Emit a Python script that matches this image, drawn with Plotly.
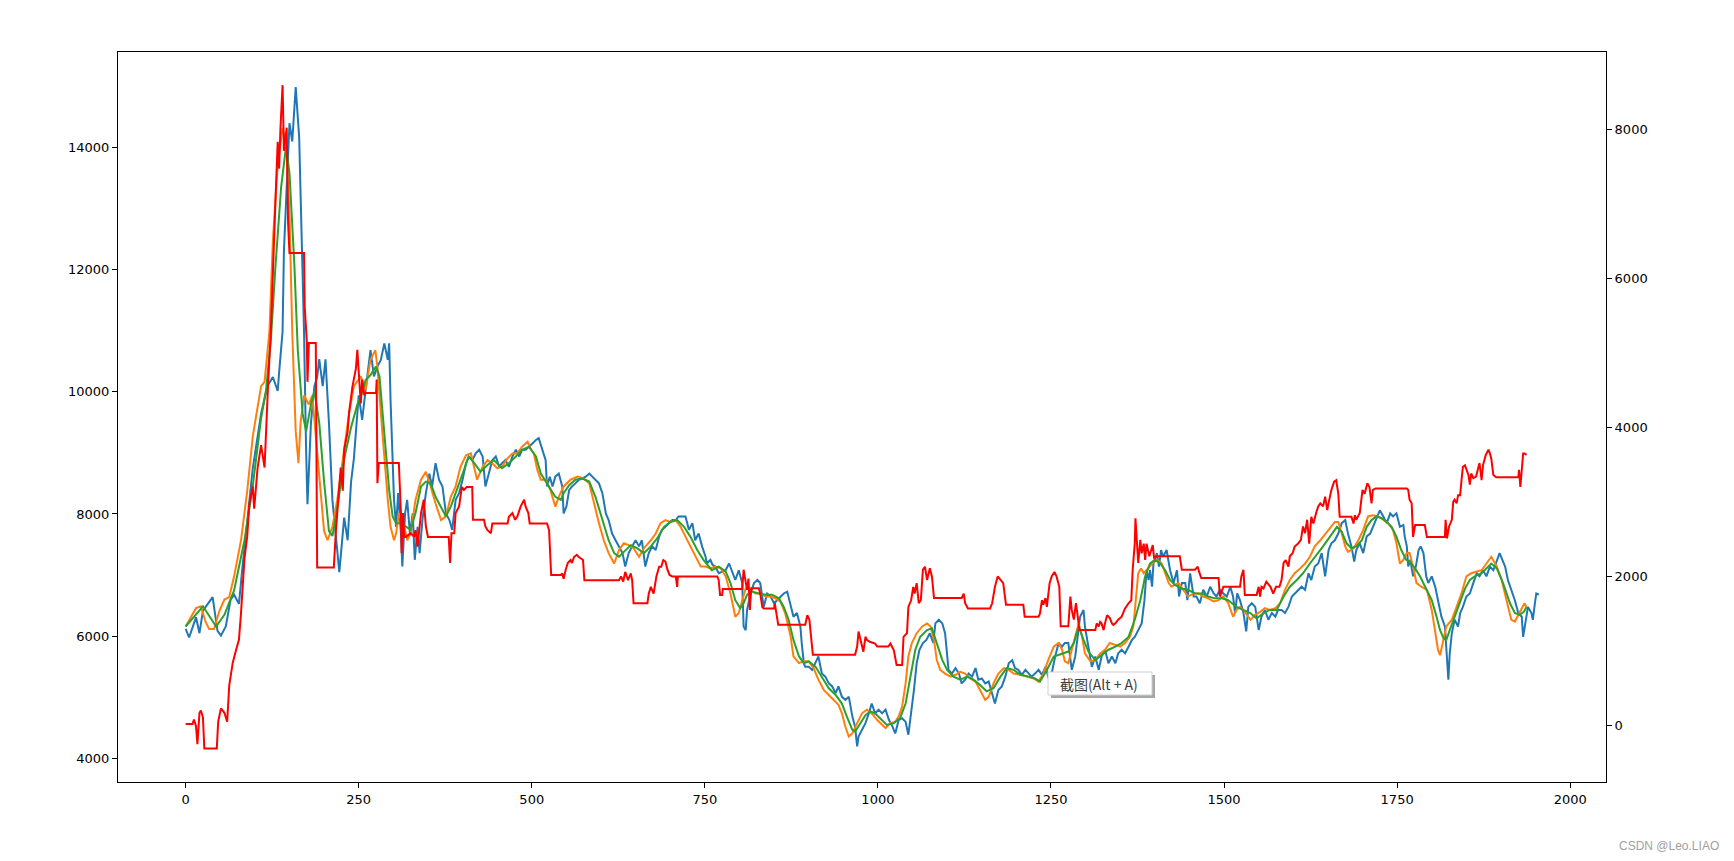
import plotly.graph_objects as go

# ---------------- data ----------------
blue_x = [0, 5, 15, 20, 25, 34, 39, 46, 51, 58, 65, 70, 77, 82, 89, 97, 109, 118, 126, 133, 135, 140, 142, 147, 150, 154, 159, 164, 166, 169, 171, 174, 176, 181, 186, 190, 193, 198, 202, 207, 212, 217, 222, 229, 234, 239, 243, 250,
          255, 260, 267, 272, 277, 282, 287, 292, 294, 296, 299, 301, 304, 307, 311, 313, 317, 320, 324, 328, 331, 335, 338, 342, 347, 352, 356, 361, 366, 371, 376, 381, 385, 390, 395, 400, 405, 409, 414, 419, 424, 429, 433, 438, 443, 448, 453, 457, 462, 467, 472, 477, 482, 486, 491, 496,
          501, 506, 510, 515, 520, 522, 526, 530, 534, 539, 544, 546, 550, 554, 558, 563, 568, 573, 578, 583, 587, 592, 597, 602, 607, 611, 616, 621, 626, 631, 635, 640, 645, 650, 655, 659, 664, 669, 674, 679, 684, 688, 693, 698, 703, 708, 712, 717, 722, 727, 732, 736, 741, 746, 751,
          753, 758, 761, 765, 770, 775, 780, 785, 789, 794, 799, 804, 806, 809, 811, 816, 821, 826, 830, 835, 840, 845, 850, 854, 859, 864, 869, 874, 878, 883, 888, 890, 893, 895, 900, 905, 910, 914, 919, 924, 929, 934, 939, 943, 948, 953, 958, 963, 967, 970, 972, 977, 982, 987, 991, 996, 1001,
          1006, 1011, 1016, 1020, 1025, 1030, 1035, 1040, 1044, 1048, 1052, 1056, 1060, 1065, 1070, 1075, 1080, 1083, 1088, 1093, 1097, 1102, 1107, 1112, 1117, 1121, 1126, 1131, 1136, 1141, 1145, 1150, 1155, 1160, 1165, 1169, 1174, 1179, 1184, 1189, 1194, 1198, 1203, 1208, 1213, 1218, 1222, 1227, 1232, 1237, 1242, 1246, 1251,
          1256, 1261, 1266, 1270, 1275, 1280, 1285, 1290, 1292, 1297, 1299, 1304, 1309, 1314, 1319, 1323, 1328, 1333, 1338, 1343, 1347, 1352, 1357, 1362, 1367, 1371, 1376, 1381, 1385, 1388, 1391, 1393, 1396, 1398, 1403, 1406, 1409, 1412, 1417, 1422, 1427, 1432, 1435, 1439, 1444, 1447, 1451, 1456, 1460, 1465, 1470, 1475, 1480, 1485, 1489, 1494, 1499, 1504,
          1509, 1513, 1516, 1519, 1523, 1528, 1532, 1535, 1540, 1545, 1550, 1554, 1559, 1564, 1569, 1574, 1578, 1583, 1588, 1593, 1598, 1602, 1607, 1612, 1617, 1622, 1626, 1631, 1636, 1641, 1646, 1651, 1655, 1660, 1665, 1670, 1675, 1679, 1684, 1688, 1691, 1696, 1701, 1706, 1711, 1715, 1720, 1725, 1730, 1735, 1740, 1744, 1749, 1754,
          1759, 1761, 1764, 1766, 1769, 1773, 1777, 1781, 1784, 1788, 1792, 1795, 1800, 1805, 1809, 1814, 1819, 1821, 1824, 1826, 1829, 1833, 1838, 1841, 1845, 1850, 1855, 1860, 1865, 1869, 1874, 1879, 1884, 1889, 1894, 1898, 1902, 1906, 1910, 1915, 1920, 1925, 1930, 1932, 1936, 1939, 1944, 1946, 1949, 1951, 1955]
blue_y = [6120, 5980, 6310, 6050, 6420, 6570, 6640, 6090, 6010, 6160, 6600, 6680, 6530, 7120, 7940, 8750, 9640, 10090, 10240, 10010, 10310, 10980, 12310, 13790, 14390, 14090, 14980, 14160, 13200, 12240, 10980, 9050, 8160, 9490, 10090, 10240, 10530, 10090, 10530, 9490, 8230, 7640, 7050, 7940, 7570, 8530, 8900, 9940,
          9540, 10030, 10680, 10250, 10410, 10520, 10790, 10520, 10790, 9860, 9050, 8230, 7790, 8340, 7680, 7140, 8010, 8230, 7680, 8010, 7250, 7790, 7360, 7900, 8340, 8660, 8450, 8830, 8560, 8450, 8010, 7900, 7740, 8230, 8340, 8560, 8830, 8940, 8880, 8990, 9050, 8940, 8450, 8660, 8880, 8940, 8770, 8830, 8880, 8770, 8940, 9050, 8940, 9050, 9050, 9100,
          9160, 9210, 9240, 9050, 8880, 8450, 8610, 8450, 8610, 8660, 8450, 8010, 8120, 8390, 8450, 8500, 8560, 8580, 8610, 8660, 8610, 8560, 8500, 8340, 8010, 7900, 7680, 7570, 7470, 7360, 7140, 7360, 7470, 7570, 7470, 7570, 7140, 7360, 7470, 7410, 7630, 7740, 7790, 7850, 7900, 7900, 7960, 7960, 7960, 7740, 7850, 7570, 7680, 7470, 7300,
          7190, 7250, 7170, 7140, 7030, 7060, 7080, 7190, 7060, 6920, 7080, 6870, 6160, 6100, 6430, 6700, 6870, 6920, 6870, 6480, 6700, 6650, 6540, 6590, 6650, 6700, 6730, 6480, 6320, 6380, 6160, 5880, 5560, 5500, 5500, 5450, 5560, 5670, 5390, 5340, 5230, 5180, 5070, 5180, 5010, 4960, 5010, 4690, 4520, 4200, 4360, 4470, 4580, 4740, 4900, 4740, 4800,
          4740, 4800, 4630, 4550, 4410, 4630, 4660, 4600, 4390, 4740, 5120, 5560, 5780, 5890, 5940, 6050, 5890, 6210, 6270, 6210, 6050, 5450, 5390, 5480, 5390, 5230, 5290, 5390, 5340, 5480, 5290, 5310, 5230, 5260, 5070, 4900, 5120, 5180, 5340, 5560, 5610, 5480, 5450, 5370, 5450, 5390, 5340, 5390, 5450, 5370, 5500, 5340, 5390,
          5670, 5890, 5830, 5890, 5890, 5450, 5670, 6100, 6320, 6430, 6160, 5830, 5500, 5670, 5450, 5670, 5780, 5560, 5670, 5560, 5720, 5780, 5720, 5830, 5940, 5990, 6100, 6210, 6590, 7080, 6920, 7080, 6810, 7190, 7360, 7140, 7410, 7300, 7410, 7080, 6870, 7080, 6650, 6870, 6870, 6590, 7030, 6650, 6650, 6540, 6760, 6650, 6810, 6700, 6650, 6760, 6700, 6650,
          6810, 6650, 6380, 6700, 6590, 6380, 6080, 6480, 6540, 6480, 6100, 6320, 6430, 6270, 6380, 6320, 6430, 6430, 6380, 6480, 6650, 6700, 6760, 6810, 6760, 7030, 6920, 7140, 7190, 7360, 6980, 7410, 7520, 7570, 7680, 7850, 7900, 7680, 7470, 7220, 7410, 7520, 7360, 7630, 7680, 7790, 7900, 8060, 7960, 7850, 8010, 7960, 8010, 7790,
          7820, 7630, 7470, 7140, 7250, 6980, 7140, 7410, 7470, 7360, 6980, 6870, 6980, 6810, 6590, 6320, 6160, 5720, 5290, 5720, 6050, 6270, 6160, 6380, 6480, 6650, 6700, 6870, 7030, 6980, 7080, 6980, 7140, 7080, 7250, 7360, 7250, 7140, 6920, 6760, 6590, 6380, 6320, 5990, 6320, 6480, 6380, 6270, 6540, 6700, 6680]

orange_x = [0, 15, 22, 29, 34, 41, 49, 56, 63, 70, 80, 89, 97, 101, 109, 114, 121, 126, 133, 140, 145, 150, 154, 159, 163, 166, 171, 178, 183, 188, 195, 200, 205, 212, 219, 229, 236, 243,
            253, 260, 267, 274, 277, 282, 287, 292, 296, 301, 304, 308, 316, 320, 325, 332, 340, 347, 354, 361, 369, 376, 383, 390, 397, 405, 412, 417, 421, 429, 436, 443, 450, 457, 465, 472, 479, 486, 494,
            498, 503, 508, 513, 520, 527, 534, 539, 546, 556, 566, 575, 583, 590, 597, 604, 611, 619, 626, 633, 640, 647, 655, 662, 672, 679, 686, 693, 700, 708, 715, 722, 729, 736, 744,
            751, 758, 765, 773, 780, 787, 794, 799, 804, 809, 816, 823, 830, 838, 845, 852, 859, 866, 874, 878, 886, 893, 900, 907, 914, 922, 929, 936, 943, 948, 953, 958, 963, 970, 977, 984, 991, 999,
            1004, 1011, 1018, 1025, 1030, 1035, 1040, 1044, 1049, 1056, 1064, 1071, 1076, 1081, 1085, 1090, 1097, 1105, 1112, 1119, 1126, 1133, 1141, 1148, 1155, 1160, 1167, 1174, 1182, 1189, 1196, 1206, 1215, 1225, 1232, 1239, 1246, 1254,
            1261, 1266, 1270, 1275, 1280, 1285, 1290, 1295, 1299, 1307, 1314, 1321, 1328, 1335, 1343, 1350, 1357, 1364, 1369, 1372, 1376, 1380, 1384, 1388, 1396, 1403, 1410, 1415, 1420, 1424, 1429, 1434, 1441, 1448, 1456, 1463, 1470, 1477, 1485, 1492, 1499, 1506,
            1513, 1518, 1523, 1530, 1538, 1545, 1552, 1559, 1566, 1574, 1581, 1588, 1595, 1602, 1610, 1617, 1624, 1631, 1639, 1646, 1653, 1660, 1665, 1670, 1675, 1679, 1687, 1694, 1701, 1708, 1715, 1723, 1730, 1737, 1744, 1749,
            1754, 1759, 1764, 1768, 1773, 1778, 1785, 1793, 1800, 1805, 1809, 1812, 1817, 1821, 1829, 1836, 1843, 1850, 1857, 1865, 1872, 1879, 1886, 1894, 1901, 1908, 1915, 1920, 1925, 1930, 1934, 1937]
orange_y = [6160, 6460, 6490, 6230, 6120, 6120, 6420, 6600, 6640, 6980, 7570, 8380, 9270, 9570, 10090, 10160, 10980, 12460, 13720, 14310, 14090, 12900, 10980, 9350, 8830, 9490, 9940, 9790, 9940, 9270, 8380, 7720, 7570, 7790, 8230, 9050, 9640, 10090,
            10250, 10030, 10520, 10680, 10410, 9650, 8880, 8230, 7790, 7570, 7680, 8010, 7790, 7570, 7680, 8230, 8560, 8690, 8450, 8170, 7900, 7960, 8280, 8450, 8770, 8960, 8990, 8720, 8560, 8770, 8880, 8830, 8750, 8770, 8910, 8990, 8990, 9100, 9180,
            9070, 8990, 8720, 8560, 8560, 8390, 8120, 8280, 8450, 8560, 8610, 8580, 8500, 8170, 7850, 7570, 7360, 7190, 7410, 7520, 7490, 7440, 7300, 7440, 7570, 7680, 7850, 7900, 7870, 7900, 7790, 7630, 7470, 7300, 7140,
            7140, 7110, 7140, 7110, 6980, 6700, 6320, 6380, 6590, 6780, 6760, 6700, 6700, 6650, 6650, 6620, 6570, 6380, 5990, 5670, 5560, 5590, 5590, 5480, 5290, 5120, 5040, 4960, 4880, 4740, 4520, 4360, 4410, 4580, 4740, 4800, 4740, 4630,
            4580, 4500, 4580, 4600, 4690, 4850, 5230, 5670, 5890, 6050, 6160, 6210, 6160, 5940, 5610, 5450, 5390, 5340, 5370, 5420, 5390, 5310, 5260, 5120, 4960, 5010, 5230, 5390, 5480, 5450, 5390, 5370, 5340, 5310, 5260, 5390, 5610, 5830,
            5890, 5780, 5590, 5560, 5780, 5990, 6210, 5990, 5720, 5590, 5610, 5720, 5780, 5890, 5860, 5830, 5890, 5990, 6160, 6540, 7030, 7110, 7030, 7080, 7190, 7250, 7190, 7030, 6870, 6810, 6840, 6870, 6760, 6650, 6700, 6700, 6650, 6620, 6570, 6590, 6650, 6540,
            6320, 6430, 6480, 6400, 6270, 6350, 6400, 6460, 6430, 6460, 6540, 6760, 6920, 7030, 7110, 7190, 7300, 7470, 7570, 7680, 7770, 7870, 7870, 7680, 7470, 7380, 7440, 7570, 7740, 7960, 7980, 7960, 7900, 7850, 7740, 7520,
            7190, 7250, 7360, 7360, 7140, 6870, 6810, 6760, 6430, 6050, 5780, 5690, 5940, 6160, 6270, 6480, 6700, 6980, 7030, 7060, 7080, 7190, 7300, 7140, 6920, 6590, 6270, 6240, 6350, 6460, 6540, 6480]

green_x = [0, 25, 44, 56, 70, 85, 97, 109, 116, 123, 130, 138, 145, 150, 157, 162, 169, 174, 181, 186, 193, 200, 207, 212, 219, 229, 239, 248,
           253, 260, 267, 275, 280, 284, 289, 294, 299, 304, 311, 318, 325, 332, 340, 347, 354, 361, 371, 376, 383, 390, 400, 409, 417, 426, 436, 445, 457, 467, 477, 486, 496,
           506, 513, 520, 527, 534, 542, 546, 554, 563, 573, 583, 592, 602, 611, 619, 626, 633, 643, 652, 662, 672, 681, 691, 700, 710, 720, 729, 739, 748,
           760, 770, 780, 787, 794, 801, 806, 811, 818, 828, 838, 847, 857, 864, 871, 878, 886, 893, 900, 910, 919, 929, 939, 948, 955, 963, 967, 975, 982, 989, 996, 1003,
           1013, 1023, 1032, 1040, 1047, 1054, 1061, 1071, 1078, 1085, 1093, 1100, 1109, 1119, 1129, 1138, 1148, 1157, 1167, 1177, 1186, 1196, 1206, 1218, 1227, 1234, 1244, 1254,
           1266, 1275, 1283, 1290, 1297, 1304, 1314, 1323, 1333, 1343, 1352, 1362, 1371, 1379, 1386, 1393, 1400, 1408, 1415, 1422, 1429, 1439, 1448, 1458, 1468, 1477, 1487, 1497, 1506,
           1518, 1528, 1538, 1547, 1557, 1566, 1576, 1586, 1595, 1605, 1614, 1624, 1634, 1643, 1653, 1663, 1670, 1677, 1684, 1691, 1699, 1706, 1713, 1720, 1728, 1735, 1742, 1749,
           1756, 1763, 1768, 1776, 1783, 1793, 1800, 1807, 1812, 1817, 1821, 1826, 1833, 1841, 1848, 1855, 1862, 1872, 1879, 1886, 1894, 1903, 1913, 1920, 1927, 1933, 1937]
green_y = [6160, 6490, 6160, 6350, 6750, 7570, 8460, 9570, 10010, 10830, 12090, 13350, 14010, 13570, 12090, 10680, 9640, 9350, 9790, 10010, 9490, 8530, 7720, 7640, 8090, 8900, 9420, 9790,
           9920, 10190, 10270, 10410, 10250, 9700, 9050, 8390, 7960, 7850, 7850, 7790, 7740, 8010, 8450, 8530, 8500, 8280, 8070, 7960, 8120, 8340, 8660, 8940, 8830, 8690, 8800, 8880, 8750, 8830, 8940, 9050, 9100,
           8940, 8660, 8530, 8390, 8280, 8230, 8340, 8470, 8560, 8580, 8530, 8280, 7900, 7570, 7360, 7300, 7380, 7490, 7440, 7360, 7470, 7600, 7790, 7870, 7900, 7790, 7630, 7410, 7250,
           7080, 7140, 7060, 6870, 6590, 6460, 6540, 6680, 6730, 6700, 6680, 6680, 6620, 6480, 6270, 5940, 5670, 5560, 5590, 5500, 5340, 5150, 5040, 4900, 4690, 4470, 4440, 4580, 4710, 4770, 4740, 4660,
           4550, 4580, 4660, 4900, 5340, 5780, 5990, 6100, 6130, 5890, 5610, 5450, 5340, 5290, 5340, 5290, 5200, 5100, 5150, 5340, 5480, 5450, 5370, 5340, 5310, 5260, 5450, 5670,
           5720, 5750, 5890, 6160, 5940, 5750, 5610, 5690, 5780, 5830, 5890, 5990, 6270, 6590, 6980, 7190, 7250, 7190, 7080, 6920, 6840, 6780, 6760, 6700, 6700, 6650, 6620, 6620, 6590,
           6480, 6430, 6380, 6290, 6380, 6430, 6430, 6650, 6810, 6920, 7030, 7190, 7330, 7470, 7630, 7790, 7710, 7520, 7440, 7470, 7570, 7790, 7900, 7960, 7930, 7870, 7790, 7630,
           7410, 7250, 7220, 7110, 6980, 6760, 6590, 6320, 6100, 5970, 5940, 6100, 6320, 6570, 6780, 6920, 6980, 7030, 7110, 7190, 7110, 6870, 6540, 6380, 6350, 6400, 6480]

red_x = [0, 10, 12, 15, 17, 20, 22, 25, 27, 45, 47, 51, 56, 60, 63, 68, 73, 77, 80, 85, 89, 92, 97, 99, 104, 109, 114, 116, 119, 123, 127, 130, 133, 135, 137, 140, 142, 146, 148, 150, 171, 172, 175, 176, 178, 188, 190, 214, 217, 220, 224, 227, 229, 234, 236, 241, 246, 248, 251,
         253, 255, 258, 260, 275, 276, 277, 279, 308, 311, 312, 314, 316, 318, 325, 330, 332, 335, 340, 344, 347, 349, 350, 380, 382, 384, 388, 390, 395, 399, 402, 406, 414, 415, 431, 433, 436, 441, 443, 465, 467, 472, 476, 479, 484, 489, 491, 495, 497, 522,
         525, 528, 542, 544, 546, 549, 552, 556, 558, 561, 565, 568, 571, 574, 576, 626, 629, 632, 635, 639, 643, 645, 647, 667, 669, 672, 676, 680, 684, 687, 690, 693, 696, 699, 703, 708, 710, 711, 768,
         770, 772, 775, 776, 804, 806, 809, 811, 813, 815, 817, 828, 830, 833, 835, 850, 851, 853, 856, 895, 898, 901, 906, 967, 970, 972, 975, 977, 979, 982, 984, 989, 996, 999, 1015,
         1018, 1020, 1023, 1027, 1035, 1037, 1042, 1044, 1048, 1051, 1053, 1056, 1059, 1062, 1065, 1068, 1071, 1075, 1078, 1081, 1121, 1124, 1126, 1130, 1162, 1165, 1169, 1173, 1177, 1181, 1185, 1210, 1212, 1232, 1234, 1237, 1239, 1242, 1244, 1248, 1251, 1255, 1258, 1262, 1264,
         1275, 1278, 1280, 1283, 1286, 1288, 1291, 1314, 1316, 1319, 1321, 1323, 1326, 1328, 1331, 1333, 1335, 1338, 1340, 1343, 1347, 1352, 1357, 1362, 1366, 1368, 1371, 1372, 1374, 1376, 1379, 1381, 1384, 1386, 1388, 1392, 1395, 1397, 1399, 1403, 1436, 1439, 1458, 1462, 1464, 1467, 1492, 1494, 1499, 1523,
         1525, 1528, 1530, 1547, 1550, 1552, 1554, 1557, 1561, 1564, 1567, 1571, 1575, 1580, 1583, 1586, 1589, 1593, 1595, 1599, 1602, 1607, 1611, 1614, 1617, 1620, 1623, 1626, 1629, 1633, 1636, 1639, 1643, 1646, 1649, 1652, 1655, 1659, 1662, 1665, 1667, 1684, 1687, 1689, 1691, 1696, 1700, 1703, 1707, 1710, 1713, 1715, 1719, 1764, 1766, 1768, 1771, 1773, 1776, 1790, 1793, 1819,
         1820, 1822, 1825, 1829, 1831, 1833, 1836, 1838, 1841, 1843, 1845, 1848, 1850, 1853, 1855, 1857, 1860, 1864, 1867, 1869, 1872, 1874, 1878, 1882, 1884, 1886, 1889, 1893, 1925, 1926, 1928, 1930, 1932, 1934, 1937]
red_y = [20, 20, 80, -10, -250, 170, 200, 110, -310, -310, 50, 230, 170, 50, 540, 840, 1020, 1150, 1510, 2240, 2540, 2970, 3210, 2910, 3460, 3760, 3460, 4000, 4550, 5280, 6190, 7100, 7830, 7470, 8020, 8590, 7710, 8020, 6740, 6340, 6340, 5610, 5160, 4610, 5130, 5130, 2120, 2120, 2600, 2970, 3460, 3150, 3700, 3940, 4190, 4550, 4790, 5040, 4670,
         4320, 4640, 4430, 4460, 4460, 4640, 3250, 3520, 3520, 2850, 2310, 2850, 2530, 2530, 2580, 2530, 2620, 2400, 2850, 3030, 2670, 2580, 2530, 2530, 2180, 2580, 2580, 2850, 2940, 3200, 3160, 3200, 3200, 2760, 2760, 2670, 2620, 2580, 2710, 2710, 2800, 2850, 2760, 2800, 2940, 3030, 2940, 2850, 2710, 2710,
         2620, 2020, 2020, 2040, 1970, 2090, 2180, 2220, 2180, 2260, 2290, 2260, 2240, 2220, 1950, 1950, 2000, 1930, 2060, 1950, 2040, 1950, 1640, 1640, 1770, 1860, 1770, 2000, 2130, 2130, 2220, 2200, 2090, 2020, 2000, 2000, 1860, 2000, 2000,
         1950, 1750, 1750, 1830, 1830, 2090, 1950, 1820, 1970, 1550, 1840, 1840, 1770, 1590, 1570, 1570, 1640, 1510, 1350, 1350, 1480, 1420, 950, 950, 1060, 1260, 1150, 1040, 990, 1190, 1150, 1120, 1100, 1060, 1060,
         1100, 1060, 1010, 810, 810, 1190, 1240, 1590, 1680, 1860, 1770, 1910, 1640, 1680, 2090, 2130, 1950, 2110, 2000, 1710, 1710, 1770, 1640, 1570, 1570, 1640, 1860, 2000, 1950, 1910, 1620, 1620, 1460, 1460, 1500, 1680, 1620, 1710, 1590, 1910, 2000, 2060, 2000, 1860, 1330,
         1330, 1730, 1550, 1420, 1640, 1510, 1280, 1280, 1370, 1330, 1390, 1370, 1280, 1370, 1480, 1460, 1440, 1370, 1350, 1370, 1420, 1460, 1570, 1640, 1680, 2090, 2440, 2780, 2530, 2180, 2490, 2310, 2440, 2220, 2440, 2270, 2360, 2420, 2240, 2270, 2270, 2090, 2090, 2130, 2060, 1980, 1980, 1730, 1860, 1860,
         2000, 2090, 1750, 1750, 1860, 1730, 1860, 1840, 1930, 1890, 1860, 1770, 1860, 1860, 1950, 2180, 2220, 2130, 2270, 2310, 2400, 2440, 2490, 2670, 2580, 2760, 2440, 2800, 2710, 2850, 2940, 2980, 2940, 3070, 2890, 3030, 3160, 3270, 3290, 3110, 2800, 2800, 2710, 2820, 2760, 2850, 3160, 3110, 3250, 3200, 2980, 3160, 3180, 3180, 3160, 3030, 2980, 2530, 2690, 2690, 2530, 2530,
         2760, 2510, 2670, 2760, 3000, 3030, 2980, 3090, 3090, 3290, 3470, 3490, 3430, 3360, 3230, 3380, 3320, 3340, 3450, 3520, 3290, 3490, 3630, 3700, 3650, 3580, 3360, 3330, 3330, 3430, 3200, 3430, 3650, 3650, 3630]

x_ticks = [0, 250, 500, 750, 1000, 1250, 1500, 1750, 2000]
left_ticks = [4000, 6000, 8000, 10000, 12000, 14000]
right_ticks = [0, 2000, 4000, 6000, 8000]

# ---------------- figure ----------------
W, H = 1734, 861
ML, MR, MT, MB = 118, 128, 52, 79
PW, PH = W - ML - MR, H - MT - MB

fig = go.Figure()
lw = 2
fig.add_trace(go.Scatter(x=blue_x, y=blue_y, mode="lines", line=dict(color="#1f77b4", width=lw), yaxis="y"))
fig.add_trace(go.Scatter(x=orange_x, y=orange_y, mode="lines", line=dict(color="#ff7f0e", width=lw), yaxis="y"))
fig.add_trace(go.Scatter(x=green_x, y=green_y, mode="lines", line=dict(color="#2ca02c", width=lw), yaxis="y"))
fig.add_trace(go.Scatter(x=red_x, y=red_y, mode="lines", line=dict(color="#ff0000", width=lw), yaxis="y2"))

axis_font = dict(family="DejaVu Sans", size=13, color="black")
common = dict(showgrid=False, zeroline=False, showline=True, linecolor="black", linewidth=1,
              ticks="outside", ticklen=5, tickwidth=1, tickcolor="black", tickfont=axis_font)

fig.update_layout(
    width=W, height=H,
    margin=dict(l=ML, r=MR, t=MT, b=MB, autoexpand=False),
    paper_bgcolor="white", plot_bgcolor="white",
    showlegend=False,
    xaxis=dict(range=[-97.7, 2051.7], tickvals=x_ticks, ticktext=[str(t) for t in x_ticks], mirror=True, **common),
    yaxis=dict(range=[3617, 15554], tickvals=left_ticks, ticktext=[str(t) for t in left_ticks], **common),
    yaxis2=dict(range=[-758, 9035], tickvals=right_ticks, ticktext=[str(t) for t in right_ticks],
                overlaying="y", side="right", **common),
)

def px_x(X):
    return (X - ML) / PW

def px_y(Y):
    return (H - MB - Y) / PH

# screenshot tooltip artefact seen in the reference
fig.add_shape(type="rect", xref="paper", yref="paper", layer="above",
              x0=px_x(1051), x1=px_x(1155), y0=px_y(698), y1=px_y(675),
              fillcolor="rgba(0,0,0,0.35)", line=dict(width=0))
fig.add_shape(type="rect", xref="paper", yref="paper", layer="above",
              x0=px_x(1048), x1=px_x(1152), y0=px_y(695), y1=px_y(672),
              fillcolor="white", line=dict(color="#cfcfcf", width=1))
fig.add_annotation(xref="paper", yref="paper", x=px_x(1099), y=px_y(683.5), showarrow=False,
                   xanchor="center", yanchor="middle",
                   text="截图(Alt + A)", font=dict(family="Noto Sans CJK SC", size=14, color="#3c3c3c"))

# watermark
fig.add_annotation(xref="paper", yref="paper", x=px_x(1721), y=px_y(846), xanchor="right", yanchor="middle",
                   showarrow=False,
                   text="CSDN @Leo.LIAO", font=dict(family="Liberation Sans", size=12, color="#a0a0a0"))

fig.write_html("out.html")
